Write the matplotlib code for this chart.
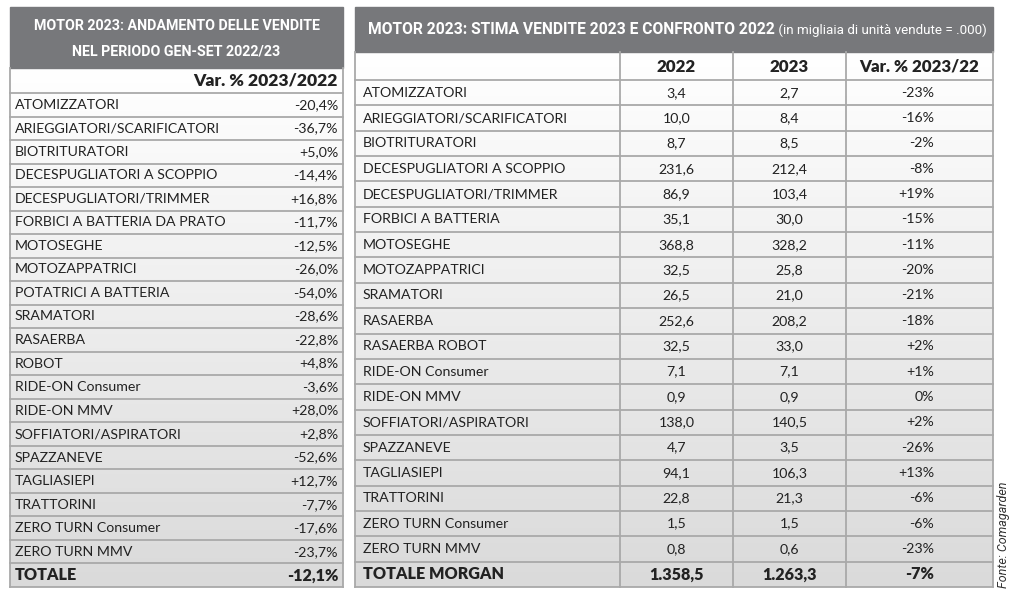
import numpy as np
import matplotlib.pyplot as plt
from matplotlib.colors import LinearSegmentedColormap

# left table: var. % 2023/2022, gen-set
left_labels = ['ATOMIZZATORI', 'ARIEGGIATORI/SCARIFICATORI', 'BIOTRITURATORI',
               'DECESPUGLIATORI A SCOPPIO', 'DECESPUGLIATORI/TRIMMER',
               'FORBICI A BATTERIA DA PRATO', 'MOTOSEGHE', 'MOTOZAPPATRICI',
               'POTATRICI A BATTERIA', 'SRAMATORI', 'RASAERBA', 'ROBOT',
               'RIDE-ON Consumer', 'RIDE-ON MMV', 'SOFFIATORI/ASPIRATORI',
               'SPAZZANEVE', 'TAGLIASIEPI', 'TRATTORINI', 'ZERO TURN Consumer',
               'ZERO TURN MMV']
left_var = [-20.4, -36.7, 5.0, -14.4, 16.8, -11.7, -12.5, -26.0, -54.0, -28.6,
            -22.8, 4.8, -3.6, 28.0, 2.8, -52.6, 12.7, -7.7, -17.6, -23.7]
left_total = -12.1

# right table: sales in thousands of units
right_labels = ['ATOMIZZATORI', 'ARIEGGIATORI/SCARIFICATORI', 'BIOTRITURATORI',
                'DECESPUGLIATORI A SCOPPIO', 'DECESPUGLIATORI/TRIMMER',
                'FORBICI A BATTERIA', 'MOTOSEGHE', 'MOTOZAPPATRICI', 'SRAMATORI',
                'RASAERBA', 'RASAERBA ROBOT', 'RIDE-ON Consumer', 'RIDE-ON MMV',
                'SOFFIATORI/ASPIRATORI', 'SPAZZANEVE', 'TAGLIASIEPI', 'TRATTORINI',
                'ZERO TURN Consumer', 'ZERO TURN MMV']
sales_2022 = [3.4, 10.0, 8.7, 231.6, 86.9, 35.1, 368.8, 32.5, 26.5, 252.6, 32.5,
              7.1, 0.9, 138.0, 4.7, 94.1, 22.8, 1.5, 0.8]
sales_2023 = [2.7, 8.4, 8.5, 212.4, 103.4, 30.0, 328.2, 25.8, 21.0, 208.2, 33.0,
              7.1, 0.9, 140.5, 3.5, 106.3, 21.3, 1.5, 0.6]
right_var = [-23, -16, -2, -8, 19, -15, -11, -20, -21, -18, 2, 1, 0, 2, -26, 13,
             -6, -6, -23]
total_2022 = 1358.5
total_2023 = 1263.3
total_var = -7


def fmt_num(v):
    s = '{:,.1f}'.format(v)
    return s.replace(',', 'X').replace('.', ',').replace('X', '.')


def fmt_pct1(v):
    return '{:+.1f}%'.format(v).replace('.', ',')


def fmt_pct0(v):
    return '0%' if v == 0 else '{:+d}%'.format(v)


# plot params
head_gray = '#77787b'
line_col = '#a9a9a9'
txt_col = '#222222'
body_font = ['Lato', 'DejaVu Sans']
cond_font = ['DejaVu Sans Condensed', 'Roboto', 'DejaVu Sans']
fs = 10.2
fsb = 11.6
lw = 1.3

fig = plt.figure(figsize=(10.24, 5.97), dpi=100)
ax = fig.add_axes([0, 0, 1, 1])
ax.set_xlim(0, 1024)
ax.set_ylim(597, 0)
ax.axis('off')
rend = fig.canvas.get_renderer()


def fit(t, target):
    # shrink/grow a text so that it spans target pixels
    w = t.get_window_extent(rend).width
    t.set_fontsize(t.get_fontsize() * target / w)


grad = np.linspace(0, 1, 256).reshape(-1, 1)
cmap = LinearSegmentedColormap.from_list('g', ['#ffffff', '#dadada'])

# ---------------- left table ----------------
lx0, lx1 = 10, 343
ly_head, ly_col, ly_body, ly_end = 7, 68, 93, 587
nrow_l = len(left_labels) + 1
rh_l = (ly_end - ly_body) / nrow_l

ax.imshow(grad, extent=[lx0, lx1, ly_end, ly_col], aspect='auto', cmap=cmap, zorder=0)
ax.add_patch(plt.Rectangle((lx0, ly_head), lx1 - lx0, ly_col - ly_head,
                           color=head_gray, zorder=1))
ta = ax.text((lx0 + lx1) / 2, 26, 'MOTOR 2023: ANDAMENTO DELLE VENDITE', color='white',
             ha='center', va='center', fontsize=13, fontweight='bold', family=cond_font)
tb = ax.text((lx0 + lx1) / 2, 51, 'NEL PERIODO GEN-SET 2022/23', color='white',
             ha='center', va='center', fontsize=13, fontweight='bold', family=cond_font)
fit(ta, 287)
tb.set_fontsize(ta.get_fontsize())
ax.text(lx1 - 5, (ly_col + ly_body) / 2, 'Var. % 2023/2022', ha='right', va='center',
        fontsize=fsb + 1, fontweight='heavy', family=body_font, color=txt_col)

for i in range(nrow_l):
    yc = ly_body + (i + 0.5) * rh_l
    if i < len(left_labels):
        lab, val, wt, s = left_labels[i], fmt_pct1(left_var[i]), 'normal', fs
    else:
        lab, val, wt, s = 'TOTALE', fmt_pct1(left_total), 'heavy', fsb
    ax.text(lx0 + 5, yc, lab, ha='left', va='center', fontsize=s, fontweight=wt,
            family=body_font, color=txt_col)
    ax.text(lx1 - 5, yc, val, ha='right', va='center', fontsize=s,
            fontweight=wt, family=body_font, color=txt_col)
for i in range(nrow_l + 1):
    y = ly_body + i * rh_l
    ax.plot([lx0, lx1], [y, y], color=line_col, lw=lw, zorder=2)
ax.plot([lx0, lx0], [ly_col, ly_end], color=line_col, lw=lw, zorder=2)
ax.plot([lx1, lx1], [ly_col, ly_end], color=line_col, lw=lw, zorder=2)

# ---------------- right table ----------------
rx0, rx1 = 355, 993
cols = [rx0, 620, 733, 846, rx1]
ry_head, ry_col, ry_body, ry_end = 7, 52, 80, 587
nrow_r = len(right_labels) + 1
rh_r = (ry_end - ry_body) / nrow_r

ax.imshow(grad, extent=[rx0, rx1, ry_end, ry_col], aspect='auto', cmap=cmap, zorder=0)
ax.add_patch(plt.Rectangle((rx0, ry_head), rx1 - rx0, ry_col - ry_head,
                           color=head_gray, zorder=1))
t1 = ax.text(368, 30, 'MOTOR 2023: STIMA VENDITE 2023 E CONFRONTO 2022', color='white',
             ha='left', va='center', fontsize=13, fontweight='bold', family=cond_font)
fit(t1, 405)
t2 = ax.annotate(' (in migliaia di unità vendute = .000)', xy=(1, 0.5), xycoords=t1,
                 va='center', ha='left', color='white', fontsize=12, family=cond_font)
fit(t2, 210)

heads = ['2022', '2023', 'Var. % 2023/22']
for j, h in enumerate(heads):
    ax.text((cols[j + 1] + cols[j + 2]) / 2, (ry_col + ry_body) / 2 + 1, h, ha='center',
            va='center', fontsize=fsb + 0.6, fontweight='heavy', family=body_font, color=txt_col)

for i in range(nrow_r):
    yc = ry_body + (i + 0.5) * rh_r
    if i < len(right_labels):
        row = [right_labels[i], fmt_num(sales_2022[i]), fmt_num(sales_2023[i]),
               fmt_pct0(right_var[i])]
        wt, s = 'normal', fs
    else:
        row = ['TOTALE MORGAN', fmt_num(total_2022), fmt_num(total_2023),
               '{:d}%'.format(total_var)]
        wt, s = 'heavy', fsb
    ax.text(rx0 + 8, yc, row[0], ha='left', va='center', fontsize=s, fontweight=wt,
            family=body_font, color=txt_col)
    ax.text((cols[1] + cols[2]) / 2, yc, row[1], ha='center', va='center', fontsize=s,
            fontweight=wt, family=body_font, color=txt_col)
    ax.text((cols[2] + cols[3]) / 2, yc, row[2], ha='center', va='center', fontsize=s,
            fontweight=wt, family=body_font, color=txt_col)
    ax.text(934, yc, row[3], ha='right', va='center', fontsize=s,
            fontweight=wt, family=body_font, color=txt_col)
for i in range(nrow_r + 1):
    y = ry_body + i * rh_r
    ax.plot([rx0, rx1], [y, y], color=line_col, lw=lw, zorder=2)
for x in cols:
    ax.plot([x, x], [ry_col, ry_end], color=line_col, lw=lw, zorder=2)

# source
tf = ax.text(1004, 588, 'Fonte: Comagarden', rotation=90, ha='center', va='bottom',
             fontsize=9, style='italic', family=cond_font, color='#333333')

fig.savefig('out.png', dpi=100)
